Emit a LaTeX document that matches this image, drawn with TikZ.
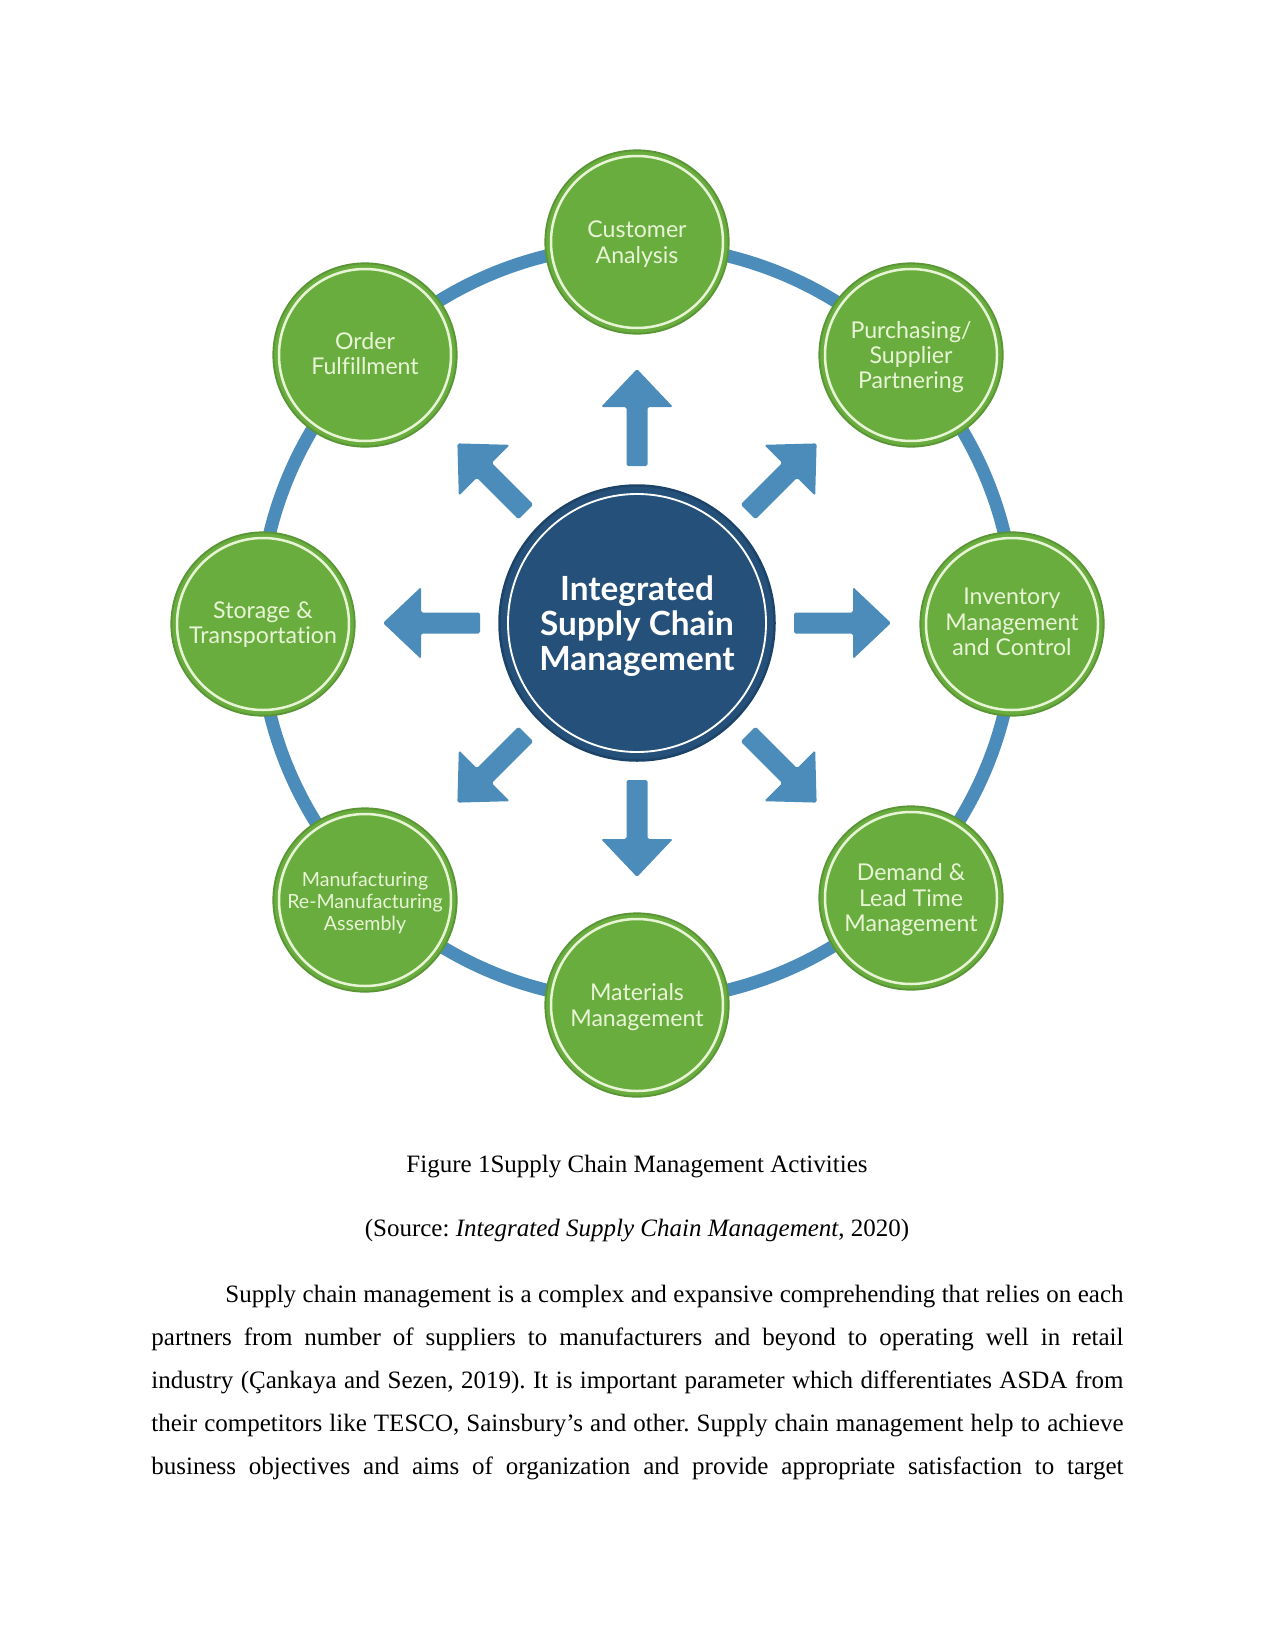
\documentclass[tikz,border=0pt]{standalone}
\usepackage{fontspec}
\setmainfont{Liberation Serif}
\newfontfamily\labelfont{Lato}[Ligatures=NoCommon]
\definecolor{leaf}{HTML}{6AAD3F}
\definecolor{leafdark}{HTML}{5A9536}
\definecolor{cream}{HTML}{E8F4D6}
\definecolor{steel}{HTML}{4B8CBA}
\definecolor{navy}{HTML}{24507A}
\definecolor{navydark}{HTML}{1D4468}
% lines of a circle label, set a little low
\newcommand\lowlines[2]{\raisebox{-#1}[\height][\depth]{\begin{tabular}{@{}c@{}}#2\end{tabular}}}

\begin{document}
\begin{tikzpicture}[x=0.48pt,y=0.48pt,
  activity/.style={circle,fill=leaf,draw=leafdark,line width=0.9pt,minimum size=88pt,inner sep=0pt,
    text=cream,font=\labelfont\fontsize{11.1}{12.2}\selectfont},
  hub/.style={circle,fill=navy,draw=navydark,line width=1.2pt,minimum size=132pt,inner sep=0pt,
    text=white,font=\labelfont\bfseries\fontsize{16}{16.2}\selectfont},
  flow/.style={fill=steel,rounded corners=0.8pt},
  caption/.style={anchor=base,inner sep=0pt,font=\fontsize{12}{14}\selectfont\frenchspacing}]
  \path[use as bounding box] (0,0) rectangle (1275,-1651);
  % ring through the activities
  \coordinate (centre) at (637,-623);
  \draw[steel,line width=6.2pt] (centre) circle[radius=378];
  % arrows out of the hub
  \foreach \ang in {0,45,...,315}
    \fill[flow,shift={(centre)},rotate=\ang]
      (157,-10.5) -- (216,-10.5) -- (216,-36) -- (254,0) -- (216,36) -- (216,10.5) -- (157,10.5) -- cycle;
  % hub
  \node[hub] (hub) at (centre) {\lowlines{2.5pt}{Integrated\\Supply Chain\\Management}};
  \draw[white,line width=0.9pt] (hub.center) circle[radius=129];
  % activities
  \node[activity] (customer) at (637,-242) {\lowlines{1.6pt}{Customer\\Analysis}};
  \node[activity] (purchasing) at (911,-355) {\lowlines{1.6pt}{Purchasing/\\Supplier\\Partnering}};
  \node[activity] (inventory) at (1012,-624) {\lowlines{0.6pt}{Inventory\\Management\\and Control}};
  \node[activity] (demand) at (911,-898) {\lowlines{1.4pt}{Demand \&\\Lead Time\\Management}};
  \node[activity] (materials) at (637,-1005) {\lowlines{1.6pt}{Materials\\Management}};
  \node[activity,font=\labelfont\fontsize{9.4}{10.6}\selectfont] (manufacturing) at (365,-900)
    {\lowlines{1.8pt}{Manufacturing\\Re-Manufacturing\\Assembly}};
  \node[activity] (storage) at (263,-624) {\lowlines{1pt}{Storage \&\\Transportation}};
  \node[activity] (order) at (365,-355) {\lowlines{1pt}{Order\\Fulfillment}};
  \foreach \name in {customer,purchasing,inventory,demand,materials,manufacturing,storage,order}
    \draw[cream,line width=1.2pt] (\name.center) circle[radius=86];
  % caption and text below
  \node[caption] (figcap) at (637,-1172) {Figure 1Supply Chain Management Activities};
  \node[caption] (source) at (637,-1236) {(Source: \textit{Integrated Supply Chain Management}, 2020)};
  \node[anchor=north west,inner sep=0pt,text width=466.6pt,align=justify,
    font=\fontsize{12}{20.64}\selectfont\frenchspacing] (para) at (151,-1285)
    {\hyphenpenalty=10000 \hspace*{35.5pt}Supply chain management is a complex and expansive comprehending that relies on each\linebreak
    partners from number of suppliers to manufacturers and beyond to operating well in retail\linebreak
    industry (Çankaya and Sezen, 2019). It is important parameter which differentiates ASDA from\linebreak
    their competitors like TESCO, Sainsbury’s and other. Supply chain management help to achieve\linebreak
    business objectives and aims of organization and provide appropriate satisfaction to target\parfillskip=0pt\par};
\end{tikzpicture}
\end{document}
